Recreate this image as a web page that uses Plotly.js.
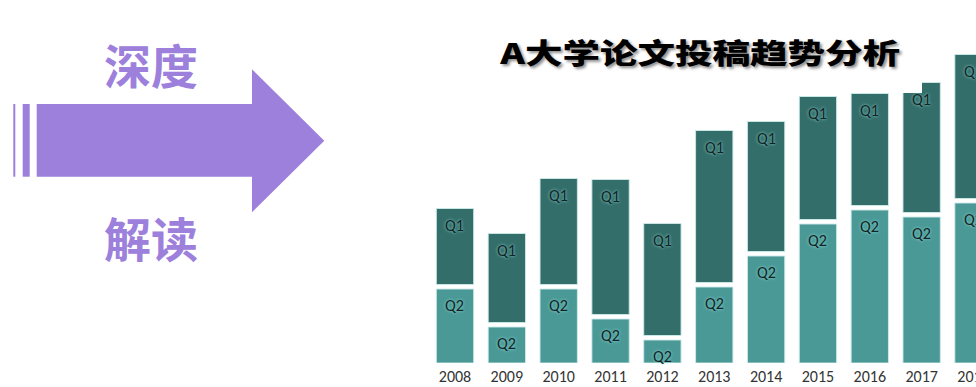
<!DOCTYPE html>
<html>
<head>
<meta charset="utf-8">
<script src="https://cdn.plot.ly/plotly-3.0.1.min.js"></script>
<style>
  html, body { margin: 0; padding: 0; background: #fff; }
  #chart { width: 976px; height: 387px; }
  .gtitle { transform-box: fill-box; transform-origin: center; transform: scaleX(1.34); }
</style>
</head>
<body>
<div id="chart"></div>
<script>
// ---- data ----
const years = ['2008','2009','2010','2011','2012','2013','2014','2015','2016','2017','2018'];
const q2 = [74, 36, 74, 44, 23, 76, 107, 139, 153, 146, 160];   // lower segment
const q1 = [76, 89, 106, 135, 112, 152, 130, 123, 112, 130, 144]; // upper segment
const segLabelTop = 'Q1';
const segLabelBottom = 'Q2';
const titleText = 'A大学论文投稿趋势分析';
const sideTop = '深度';
const sideBottom = '解读';

// ---- styling ----
const W = 976, H = 387;
const GAP = 4.5;
const darkTeal = '#346e6b';
const lightTeal = '#4a9997';
const purple = '#9d80dc';
const px = x => x / W;
const py = y => 1 - y / H;
const P = (x, y) => px(x).toFixed(5) + ',' + py(y).toFixed(5);

const q1Base = q2.map(v => v + GAP);
const q1Top = q1.map((v, i) => q1Base[i] + v);

const traces = [
  {
    type: 'bar', x: years, y: q2, base: 0, width: 0.72,
    marker: { color: lightTeal, line: { color: 'rgba(205,235,233,0.9)', width: 1 } },
    hoverinfo: 'skip', showlegend: false
  },
  {
    type: 'bar', x: years, y: q1, base: q1Base, width: 0.72,
    marker: { color: darkTeal, line: { color: 'rgba(205,235,233,0.9)', width: 1 } },
    hoverinfo: 'skip', showlegend: false
  }
];

const labelFont = { family: 'Carlito, Lato, "Open Sans", sans-serif', size: 16, color: '#132222',
  shadow: '0 0 3px #8fe0dc' };

const annotations = [];
years.forEach((yr, i) => {
  annotations.push({ x: i, y: q2[i], xref: 'x', yref: 'y', text: segLabelBottom, showarrow: false,
    yanchor: 'middle', yshift: -16, font: Object.assign({}, labelFont) });
  annotations.push({ x: i, y: q1Top[i], xref: 'x', yref: 'y', text: segLabelTop, showarrow: false,
    yanchor: 'middle', yshift: -17, font: Object.assign({}, labelFont) });
});

const cjk = '"Noto Sans CJK SC", "Noto Sans", sans-serif';
annotations.push({ xref: 'paper', yref: 'paper', x: px(150.5), y: py(63), text: sideTop, showarrow: false,
  xanchor: 'center', yanchor: 'middle', font: { family: cjk, size: 47, color: purple, weight: 700 } });
annotations.push({ xref: 'paper', yref: 'paper', x: px(150.5), y: py(236), text: sideBottom, showarrow: false,
  xanchor: 'center', yanchor: 'middle', font: { family: cjk, size: 47, color: purple, weight: 700 } });

const arrowPath = 'M' + P(36.7, 104) + ' L' + P(252, 104) + ' L' + P(252, 69.3) + ' L' + P(324.3, 140.7) +
  ' L' + P(252, 212.3) + ' L' + P(252, 176.7) + ' L' + P(36.7, 176.7) + ' Z';

const shapes = [
  { type: 'rect', xref: 'paper', yref: 'paper', x0: px(13.3), x1: px(15.3), y0: py(176.7), y1: py(104),
    fillcolor: purple, line: { width: 0 }, layer: 'above' },
  { type: 'rect', xref: 'paper', yref: 'paper', x0: px(22.7), x1: px(29.7), y0: py(176.7), y1: py(104),
    fillcolor: purple, line: { width: 0 }, layer: 'above' },
  { type: 'path', xref: 'paper', yref: 'paper', path: arrowPath,
    fillcolor: purple, line: { width: 0 }, layer: 'above' },
  // white text box of the title that hides the corner of a bar
  { type: 'rect', xref: 'paper', yref: 'paper', x0: px(480), x1: px(922), y0: py(93), y1: 1,
    fillcolor: '#ffffff', line: { width: 0 }, layer: 'above' }
];

const xStart = 429.07;           // left edge of first category slot in pixels
const slot = 51.85;              // category pitch in pixels
const layout = {
  width: W, height: H,
  margin: { l: 0, r: 0, t: 0, b: 0 },
  paper_bgcolor: '#ffffff', plot_bgcolor: 'rgba(0,0,0,0)',
  barmode: 'overlay',
  showlegend: false,
  title: {
    text: titleText, xref: 'paper', yref: 'paper', x: px(700), y: py(54),
    xanchor: 'center', yanchor: 'middle',
    font: { family: cjk, size: 28, color: '#000000', weight: 900, shadow: '2px 3px 3px rgba(0,0,0,0.45)' }
  },
  xaxis: {
    type: 'category', domain: [px(xStart), 1],
    range: [-0.5, -0.5 + (W - xStart) / slot],
    showgrid: false, zeroline: false, showline: false, ticks: '',
    tickfont: { family: 'Carlito, Lato, "Open Sans", sans-serif', size: 16, color: '#333333' },
    ticklabelstandoff: 2, fixedrange: true
  },
  yaxis: {
    domain: [1 - 363 / H, 1], range: [0, 363],
    showgrid: false, zeroline: false, showline: false, showticklabels: false, ticks: '', fixedrange: true
  },
  annotations: annotations,
  shapes: shapes,
  hovermode: false
};

Plotly.newPlot('chart', traces, layout, { displayModeBar: false, staticPlot: true });
</script>
</body>
</html>
